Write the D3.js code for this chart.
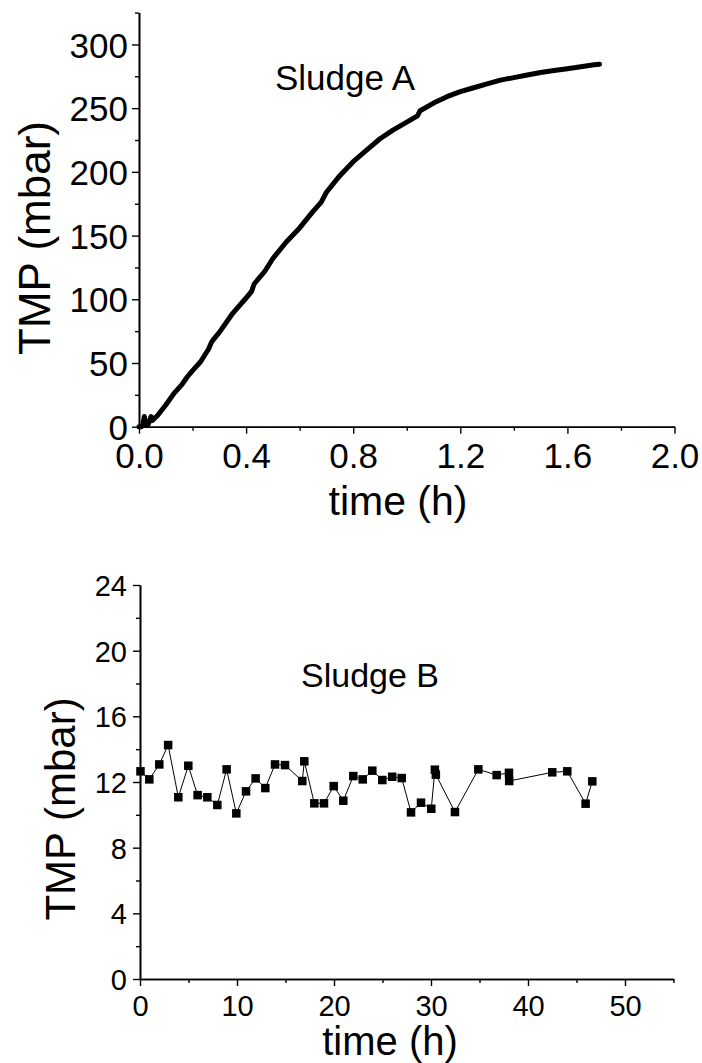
<!DOCTYPE html>
<html>
<head>
<meta charset="utf-8">
<script src="https://cdn.jsdelivr.net/npm/d3@7"></script>
<style>
  body { margin: 0; background: #fff; }
  svg { display: block; }
  text { font-family: Arial, "Liberation Sans", sans-serif; fill: #000; }
</style>
</head>
<body>
<div id="chart"></div>
<script>
// Sludge A: TMP rise during a short run
const timeA = [0, 0.01, 0.015, 0.02, 0.025, 0.035, 0.045, 0.05, 0.07, 0.10, 0.13, 0.16, 0.18, 0.20, 0.23,
    0.26, 0.27, 0.28, 0.30, 0.35, 0.40, 0.42, 0.43, 0.47, 0.50, 0.55, 0.60, 0.65, 0.68, 0.70, 0.75,
    0.80, 0.85, 0.90, 0.95, 1.00, 1.04, 1.05, 1.10, 1.15, 1.20, 1.25, 1.30, 1.35, 1.40, 1.45, 1.50,
    1.55, 1.60, 1.65, 1.70, 1.72];
const tmpA = [0, 0, 2, 8, 1, 2, 8, 5, 9, 17, 26, 33, 39, 44, 51,
    61, 66, 69, 74, 89, 101, 106, 112, 122, 132, 145, 156, 169, 176, 184, 197,
    208, 217, 226, 233, 239, 244, 248, 254, 259, 263, 266, 269, 272, 274, 276, 278,
    279.5, 281, 282.5, 284, 284.5];

// Sludge B: TMP over two days
const timeB = [0.05, 0.96, 1.99, 2.9, 3.95, 4.98, 5.94, 6.94, 7.97, 8.93, 9.93, 10.93, 11.92, 12.92,
    13.92, 14.95, 16.73, 16.94, 17.97, 18.97, 19.97, 20.96, 21.99, 22.96, 23.95, 24.98, 26.0, 26.98,
    27.94, 28.97, 30.03, 30.4, 30.5, 32.47, 34.88, 36.77, 38.04, 38.06, 42.5, 44.05, 45.94, 46.63];
const tmpB = [12.65, 12.16, 13.07, 14.25, 11.07, 12.99, 11.2, 11.07, 10.6, 12.77, 10.09, 11.43, 12.22, 11.63,
    13.07, 13.03, 12.06, 13.26, 10.7, 10.7, 11.75, 10.86, 12.36, 12.16, 12.69, 12.12, 12.32, 12.24,
    10.15, 10.74, 10.37, 12.75, 12.45, 10.17, 12.77, 12.42, 12.56, 12.06, 12.59, 12.65, 10.68, 12.04];

const xTicksA = [0, 0.4, 0.8, 1.2, 1.6, 2.0];
const xMinorA = [0.2, 0.6, 1.0, 1.4, 1.8];
const yTicksA = [0, 50, 100, 150, 200, 250, 300];
const yMinorA = [25, 75, 125, 175, 225, 275, 325];
const xTicksB = [0, 10, 20, 30, 40, 50];
const xMinorB = [5, 15, 25, 35, 45, 55];
const yTicksB = [0, 4, 8, 12, 16, 20, 24];
const yMinorB = [2, 6, 10, 14, 18, 22];

const width = 702, height = 1063;
const svg = d3.select("#chart").append("svg")
    .attr("width", width)
    .attr("height", height);

function drawAxes(g, x, y, o) {
    // minor ticks first, then the labelled ones on top
    g.append("g").attr("transform", `translate(0,${y.range()[0]})`)
        .call(d3.axisBottom(x).tickValues(o.xMinor).tickSize(4).tickSizeOuter(0).tickFormat(""));
    g.append("g").attr("transform", `translate(${x.range()[0]},0)`)
        .call(d3.axisLeft(y).tickValues(o.yMinor).tickSize(4).tickSizeOuter(0).tickFormat(""));

    const xa = g.append("g").attr("transform", `translate(0,${y.range()[0]})`)
        .call(d3.axisBottom(x).tickValues(o.xTicks).tickSize(7).tickSizeOuter(0).tickFormat(o.xFmt));
    xa.selectAll("text").attr("font-size", o.tickFont).attr("dy", 0).attr("y", o.xLabelOff);

    const ya = g.append("g").attr("transform", `translate(${x.range()[0]},0)`)
        .call(d3.axisLeft(y).tickValues(o.yTicks).tickSize(7).tickSizeOuter(0));
    ya.selectAll("text").attr("font-size", o.tickFont).attr("x", o.yLabelOff).attr("dy", "0.36em");

    g.selectAll(".domain").attr("stroke", "#000").attr("stroke-width", 1.6);
    g.selectAll(".tick line").attr("stroke", "#000").attr("stroke-width", 1.4);
    g.selectAll(".tick text").attr("font-family", "Arial, 'Liberation Sans', sans-serif").attr("fill", "#000");
}

// ---- top panel: Sludge A ----
const xA = d3.scaleLinear().domain([0, 2]).range([139, 674.5]);
const yA = d3.scaleLinear().domain([0, 325]).range([426.7, 12.6]);
const gA = svg.append("g");

drawAxes(gA, xA, yA, {
    xTicks: xTicksA, xMinor: xMinorA, yTicks: yTicksA, yMinor: yMinorA,
    xFmt: d3.format(".1f"), tickFont: 35, xLabelOff: 41, yLabelOff: -11
});

gA.append("path")
    .datum(timeA.map((t, i) => [t, tmpA[i]]))
    .attr("fill", "none")
    .attr("stroke", "#000")
    .attr("stroke-width", 5)
    .attr("stroke-linecap", "round")
    .attr("stroke-linejoin", "round")
    .attr("d", d3.line().x(d => xA(d[0])).y(d => yA(d[1])));

gA.append("text").attr("x", 275).attr("y", 90).attr("font-size", 35).text("Sludge A");
gA.append("text").attr("x", 398).attr("y", 515).attr("font-size", 41)
    .attr("text-anchor", "middle").text("time (h)");
gA.append("text").attr("transform", "translate(50,238) rotate(-90)")
    .attr("font-size", 44).attr("text-anchor", "middle").text("TMP (mbar)");

// ---- bottom panel: Sludge B ----
const xB = d3.scaleLinear().domain([0, 55]).range([140, 673.5]);
const yB = d3.scaleLinear().domain([0, 24]).range([979, 585]);
const gB = svg.append("g");

drawAxes(gB, xB, yB, {
    xTicks: xTicksB, xMinor: xMinorB, yTicks: yTicksB, yMinor: yMinorB,
    xFmt: d3.format("d"), tickFont: 29, xLabelOff: 37, yLabelOff: -13
});

const ptsB = timeB.map((t, i) => [t, tmpB[i]]);
gB.append("path")
    .datum(ptsB)
    .attr("fill", "none")
    .attr("stroke", "#000")
    .attr("stroke-width", 1)
    .attr("d", d3.line().x(d => xB(d[0])).y(d => yB(d[1])));

const ms = 8.5;
gB.selectAll("rect.pt")
    .data(ptsB)
    .join("rect")
    .attr("class", "pt")
    .attr("x", d => xB(d[0]) - ms / 2)
    .attr("y", d => yB(d[1]) - ms / 2)
    .attr("width", ms)
    .attr("height", ms)
    .attr("fill", "#000");

gB.append("text").attr("x", 301).attr("y", 687).attr("font-size", 34).text("Sludge B");
gB.append("text").attr("x", 390).attr("y", 1055).attr("font-size", 40)
    .attr("text-anchor", "middle").text("time (h)");
gB.append("text").attr("transform", "translate(75,809) rotate(-90)")
    .attr("font-size", 42).attr("text-anchor", "middle").text("TMP (mbar)");
</script>
</body>
</html>
